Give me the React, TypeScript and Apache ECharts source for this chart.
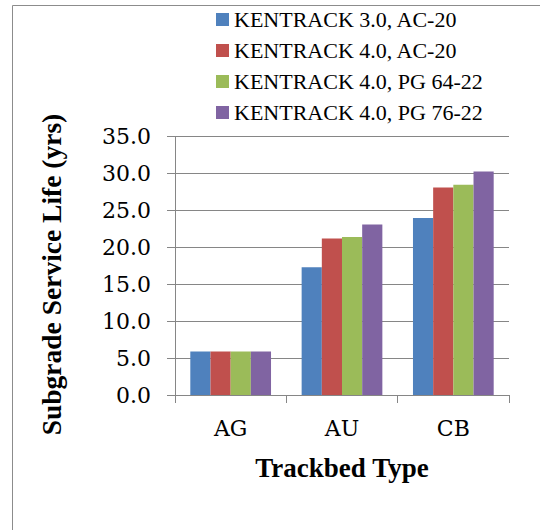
import React, { useEffect, useRef } from "react";
import * as echarts from "echarts";

const categories = ["AG", "AU", "CB"];
const seriesNames = [
  "KENTRACK 3.0, AC-20",
  "KENTRACK 4.0, AC-20",
  "KENTRACK 4.0, PG 64-22",
  "KENTRACK 4.0, PG 76-22",
];
const k30ac20 = [5.9, 17.3, 24.0];
const k40ac20 = [5.9, 21.2, 28.1];
const k40pg6422 = [5.9, 21.4, 28.5];
const k40pg7622 = [5.9, 23.1, 30.3];
const colors = ["#4F81BD", "#C0504D", "#9BBB59", "#8064A2"];
const yMin = 0;
const yMax = 35;
const yInterval = 5;

export default function App() {
  const ref = useRef<HTMLDivElement>(null);
  useEffect(() => {
    if (!ref.current) return;
    document.body.style.margin = "0";
    document.body.style.overflow = "hidden";
    const chart = echarts.init(ref.current, null, { renderer: "svg" });
    const values = [k30ac20, k40ac20, k40pg6422, k40pg7622];
    const axisGray = "#868686";
    chart.setOption({
      animation: false,
      backgroundColor: "#ffffff",
      color: colors,
      grid: { left: 175, right: 31, top: 136.7, bottom: 135, containLabel: false },
      legend: {
        orient: "vertical",
        left: 216,
        top: 4,
        itemWidth: 13,
        itemHeight: 13,
        itemGap: 0,
        icon: "rect",
        data: seriesNames,
        textStyle: {
          fontFamily: "Liberation Serif",
          fontSize: 22,
          color: "#000",
          lineHeight: 31,
          padding: [0, 0, 0, 0],
        },
        padding: 0,
      },
      xAxis: {
        type: "category",
        data: categories,
        boundaryGap: true,
        axisLine: { show: true, lineStyle: { color: axisGray, width: 1 } },
        axisTick: { show: true, length: 8, interval: 0, lineStyle: { color: axisGray } },
        axisLabel: {
          fontFamily: "DejaVu Serif",
          fontSize: 22,
          color: "#000",
          margin: 22,
        },
        name: "Trackbed Type",
        nameLocation: "middle",
        nameGap: 59,
        nameTextStyle: {
          fontFamily: "Liberation Serif",
          fontWeight: "bold",
          fontSize: 27,
          color: "#000",
        },
      },
      yAxis: {
        type: "value",
        min: yMin,
        max: yMax,
        interval: yInterval,
        axisLine: { show: true, lineStyle: { color: axisGray, width: 1 } },
        axisTick: { show: true, length: 8, lineStyle: { color: axisGray } },
        splitLine: { show: true, lineStyle: { color: axisGray, width: 1 } },
        axisLabel: {
          fontFamily: "DejaVu Serif",
          fontSize: 22,
          color: "#000",
          margin: 24,
          formatter: (v: number) => v.toFixed(1),
        },
      },
      graphic: [
        {
          type: "line",
          shape: { x1: 12.5, y1: 5.5, x2: 540, y2: 5.5 },
          style: { stroke: "#8c8c8c", lineWidth: 1 },
          silent: true,
        },
        {
          type: "line",
          shape: { x1: 12.5, y1: 5.5, x2: 12.5, y2: 530 },
          style: { stroke: "#8c8c8c", lineWidth: 1 },
          silent: true,
        },
        {
          type: "text",
          x: 51,
          y: 274.5,
          rotation: Math.PI / 2,
          style: {
            text: "Subgrade Service Life (yrs)",
            fontFamily: "Liberation Serif",
            fontWeight: "bold",
            fontSize: 27.5,
            fill: "#000",
            align: "center",
            verticalAlign: "middle",
          },
        },
      ],
      series: seriesNames.map((name, i) => ({
        name,
        type: "bar",
        data: values[i],
        barGap: "0%",
        barCategoryGap: "27.5%",
        itemStyle: { color: colors[i] },
      })),
    });
    return () => chart.dispose();
  }, []);
  return (
    <div
      ref={ref}
      style={{ position: "fixed", left: 0, top: 0, width: 540, height: 530 }}
    />
  );
}
